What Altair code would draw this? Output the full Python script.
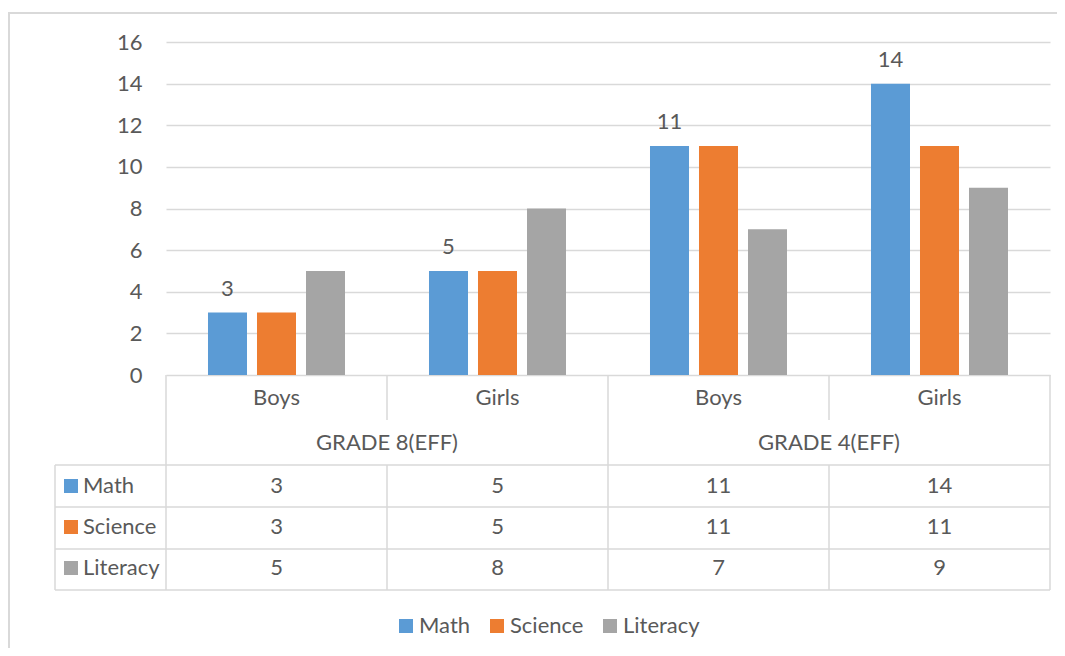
import altair as alt
import pandas as pd

# ---- data ----
groups = ["GRADE 8(EFF)", "GRADE 8(EFF)", "GRADE 4(EFF)", "GRADE 4(EFF)"]
genders = ["Boys", "Girls", "Boys", "Girls"]
series = ["Math", "Science", "Literacy"]
math = [3, 5, 11, 14]
science = [3, 5, 11, 11]
literacy = [5, 8, 7, 9]
y_ticks = [0, 2, 4, 6, 8, 10, 12, 14, 16]
colors = ["#5B9BD5", "#ED7D31", "#A5A5A5"]

keys = [f"{g}|{s}" for g, s in zip(groups, genders)]
rows = []
for name, vals in zip(series, [math, science, literacy]):
    for k, g, s, v in zip(keys, groups, genders, vals):
        rows.append({"key": k, "group": g, "gender": s, "series": name, "value": v})
df = pd.DataFrame(rows)
cat_df = pd.DataFrame({"key": keys, "gender": genders})
grp_df = pd.DataFrame({"key": [keys[0], keys[2]], "group": [groups[0], groups[2]]})

FONT = "Lato"
FS = 22
TXT = "#595959"
LINE = "#D9D9D9"

W, H = 884, 333

xscale = alt.Scale(domain=keys, paddingInner=0, paddingOuter=0)
color_scale = alt.Scale(domain=series, range=colors)
xoff_scale = alt.Scale(domain=series, paddingInner=0.204, paddingOuter=0.857)
row_scale = alt.Scale(type="point", domain=series, range=[444, 526], padding=0)
yscale = alt.Scale(domain=[0, 16], nice=False)
y_axis = alt.Axis(values=y_ticks, grid=True, gridColor=LINE, gridWidth=1.5,
                  domain=False, ticks=False, labelFont=FONT, labelFontSize=FS,
                  labelColor=TXT, labelPadding=24, title=None)

base = alt.Chart(df)

bars = base.mark_bar().encode(
    x=alt.X("key:N", scale=xscale, axis=None),
    xOffset=alt.XOffset("series:N", scale=xoff_scale),
    y=alt.Y("value:Q", scale=yscale, axis=y_axis),
    color=alt.Color("series:N", scale=color_scale,
                    legend=alt.Legend(orient="none", legendX=229, legendY=573,
                                      direction="horizontal", title=None,
                                      symbolType="square", symbolSize=196,
                                      symbolStrokeWidth=0, labelFont=FONT,
                                      labelFontSize=FS, labelColor=TXT,
                                      labelOffset=2, columnPadding=15, padding=0)),
)

labels = base.transform_filter(alt.datum.series == "Math").mark_text(
    font=FONT, fontSize=FS, color=TXT, dy=-17, baseline="alphabetic"
).encode(
    x=alt.X("key:N", scale=xscale, axis=None),
    xOffset=alt.XOffset("series:N", scale=xoff_scale),
    y=alt.Y("value:Q", scale=yscale, axis=y_axis),
    text="value:Q",
)

bar_layer = alt.layer(bars, labels)

cat_text = alt.Chart(cat_df).mark_text(font=FONT, fontSize=FS, color=TXT, baseline="middle").encode(
    x=alt.X("key:N", scale=xscale, axis=None),
    y=alt.value(356),
    text="gender:N",
)

grp_text = alt.Chart(grp_df).mark_text(font=FONT, fontSize=FS, color=TXT, baseline="middle").encode(
    x=alt.X("key:N", scale=xscale, axis=None, bandPosition=1),
    y=alt.value(401),
    text="group:N",
)

tbl_text = base.mark_text(font=FONT, fontSize=FS, color=TXT, baseline="middle").encode(
    x=alt.X("key:N", scale=xscale, axis=None),
    y=alt.Y("series:N", scale=row_scale, axis=None),
    text="value:Q",
)

sw_df = pd.DataFrame({"series": series})
swatch = alt.Chart(sw_df).mark_point(shape="square", filled=True, size=196, opacity=1).encode(
    x=alt.value(-95),
    y=alt.Y("series:N", scale=row_scale, axis=None),
    color=alt.Color("series:N", scale=color_scale),
)
sw_text = alt.Chart(sw_df).mark_text(font=FONT, fontSize=FS, color=TXT, align="left", baseline="middle").encode(
    x=alt.value(-83),
    y=alt.Y("series:N", scale=row_scale, axis=None),
    text="series:N",
)
tbl_layer = alt.layer(tbl_text, swatch, sw_text)

one = pd.DataFrame({"a": [0]})
def hline(y, x1, x2):
    return alt.Chart(one).mark_rule(color=LINE, strokeWidth=1.5).encode(
        x=alt.value(x1), x2=alt.value(x2), y=alt.value(y))
def vline(x, y1, y2):
    return alt.Chart(one).mark_rule(color=LINE, strokeWidth=1.5).encode(
        x=alt.value(x), y=alt.value(y1), y2=alt.value(y2))

lines = [
    hline(423, -111, 884), hline(465, -111, 884), hline(507, -111, 884), hline(548, -111, 884),
    vline(-111, 423, 548), vline(0, 333, 548), vline(442, 333, 548), vline(884, 333, 548),
    vline(221, 333, 378), vline(221, 423, 548), vline(663, 333, 378), vline(663, 423, 548),
]

border = alt.Chart(one).mark_rect(fill=None, stroke=LINE, strokeWidth=2).encode(
    x=alt.value(-157), x2=alt.value(1000), y=alt.value(-29), y2=alt.value(700))

chart = alt.layer(
    border, *lines, bar_layer, cat_text, grp_text, tbl_layer
).resolve_scale(y="independent").properties(
    width=W, height=H,
    autosize=alt.AutoSizeParams(type="none"),
    padding={"left": 158, "top": 34, "right": 7, "bottom": 273},
    background="white",
).configure_view(stroke=None)

chart.save("out.html", embed_options={"renderer": "svg", "actions": False})
